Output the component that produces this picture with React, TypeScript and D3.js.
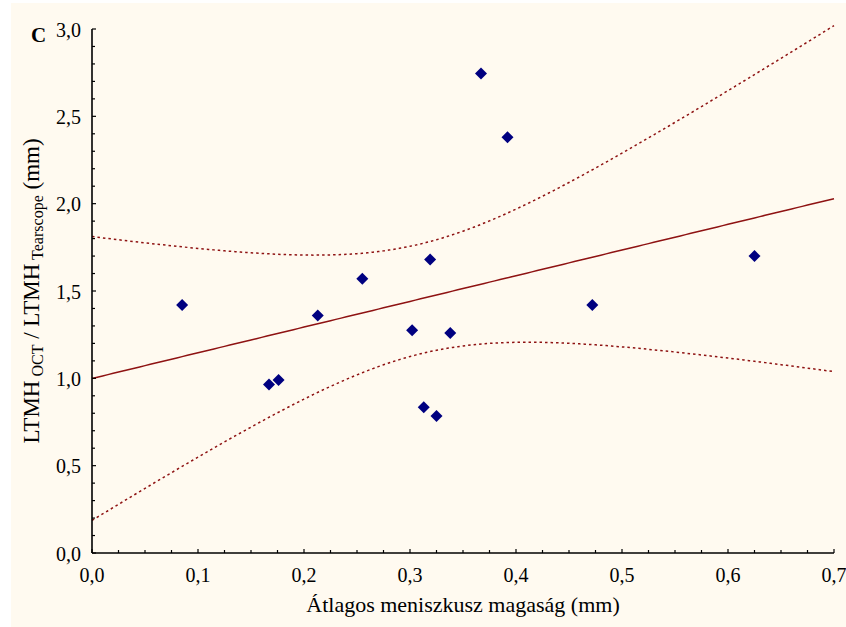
import React from 'react';
import * as d3 from 'd3';

// átlagos meniszkusz magaság (mm) vs LTMH OCT / LTMH Tearscope
const meniscusX = [0.085, 0.167, 0.176, 0.213, 0.255, 0.302, 0.313, 0.319, 0.325, 0.338, 0.367, 0.392, 0.472, 0.625];
const ratioY = [1.42, 0.965, 0.99, 1.36, 1.57, 1.275, 0.835, 1.68, 0.785, 1.26, 2.745, 2.38, 1.42, 1.70];

const xTicks = [0, 0.1, 0.2, 0.3, 0.4, 0.5, 0.6, 0.7];
const yTicks = [0, 0.5, 1.0, 1.5, 2.0, 2.5, 3.0];
const T_975_DF12 = 2.179;

const fmt = (v: number) => v.toFixed(1).replace('.', ',');
const FONT = '"Liberation Serif", "Times New Roman", serif';

export default function App() {
  const W = 846, H = 627;
  const x = d3.scaleLinear().domain([0, 0.7]).range([92, 834]);
  const y = d3.scaleLinear().domain([0, 3]).range([553, 29]);

  // linear regression + 95% confidence band of the mean
  const n = meniscusX.length;
  const mx = d3.mean(meniscusX)!;
  const my = d3.mean(ratioY)!;
  const sxx = d3.sum(meniscusX, v => (v - mx) ** 2);
  const sxy = d3.sum(meniscusX, (v, i) => (v - mx) * (ratioY[i] - my));
  const slope = sxy / sxx;
  const intercept = my - slope * mx;
  const sse = d3.sum(meniscusX, (v, i) => (ratioY[i] - (intercept + slope * v)) ** 2);
  const s = Math.sqrt(sse / (n - 2));
  const band = (v: number) => T_975_DF12 * s * Math.sqrt(1 / n + (v - mx) ** 2 / sxx);

  const grid = d3.range(0, 0.7001, 0.005);
  const fitPath = d3.line<number>().x(v => x(v)).y(v => y(intercept + slope * v))(grid)!;
  const upperPath = d3.line<number>().x(v => x(v)).y(v => y(intercept + slope * v + band(v)))(grid)!;
  const lowerPath = d3.line<number>().x(v => x(v)).y(v => y(intercept + slope * v - band(v)))(grid)!;

  const xMinor = d3.range(0, 0.7001, 0.025);
  const yMinor = d3.range(0, 3.0001, 0.1);
  const lineColor = '#8E1212';

  return (
    <svg width={W} height={H} style={{ position: 'absolute', left: 0, top: 0 }} fontFamily={FONT}>
      <rect x={0} y={0} width={W} height={H} fill="#fff" />
      <rect x={11} y={3} width={W - 11} height={H - 3} fill="#FFFAF0" />

      <path d={upperPath} fill="none" stroke={lineColor} strokeWidth={1.5} strokeDasharray="2.5,3" />
      <path d={lowerPath} fill="none" stroke={lineColor} strokeWidth={1.5} strokeDasharray="2.5,3" />
      <path d={fitPath} fill="none" stroke={lineColor} strokeWidth={1.5} />

      {meniscusX.map((v, i) => (
        <path key={i} d="M0,-6L6,0L0,6L-6,0Z" fill="#000080"
          transform={`translate(${x(v)},${y(ratioY[i])})`} />
      ))}

      {/* axes */}
      <line x1={x(0)} x2={x(0)} y1={y(3)} y2={y(0)} stroke="#000" strokeWidth={1.6} />
      <line x1={x(0)} x2={x(0.7)} y1={y(0)} y2={y(0)} stroke="#000" strokeWidth={1.6} />
      {xMinor.map((v, i) => (
        <line key={'xm' + i} x1={x(v)} x2={x(v)} y1={y(0)} y2={y(0) - (i % 4 === 0 ? 4 : 3)} stroke="#000" strokeWidth={1.2} />
      ))}
      {yMinor.map((v, i) => (
        <line key={'ym' + i} x1={x(0)} x2={x(0) + (i % 5 === 0 ? 4 : 3)} y1={y(v)} y2={y(v)} stroke="#000" strokeWidth={1.2} />
      ))}
      {xTicks.map(v => (
        <text key={'xt' + v} x={x(v)} y={582} textAnchor="middle" fontSize={20}>{fmt(v)}</text>
      ))}
      {yTicks.map(v => (
        <text key={'yt' + v} x={81} y={y(v) + 7.5} textAnchor="end" fontSize={20}>{fmt(v)}</text>
      ))}

      <text x={463} y={612} textAnchor="middle" fontSize={22}>Átlagos meniszkusz magaság (mm)</text>
      <text transform={`translate(39,${(y(0) + y(3)) / 2}) rotate(-90)`} textAnchor="middle" fontSize={23}>
        LTMH<tspan fontSize={16} dy={4}> OCT</tspan><tspan dy={-4}> / LTMH</tspan>
        <tspan fontSize={16} dy={4}> Tearscope</tspan><tspan dy={-4}> (mm)</tspan>
      </text>
      <text x={31} y={42} fontSize={21} fontWeight="bold">C</text>
    </svg>
  );
}
